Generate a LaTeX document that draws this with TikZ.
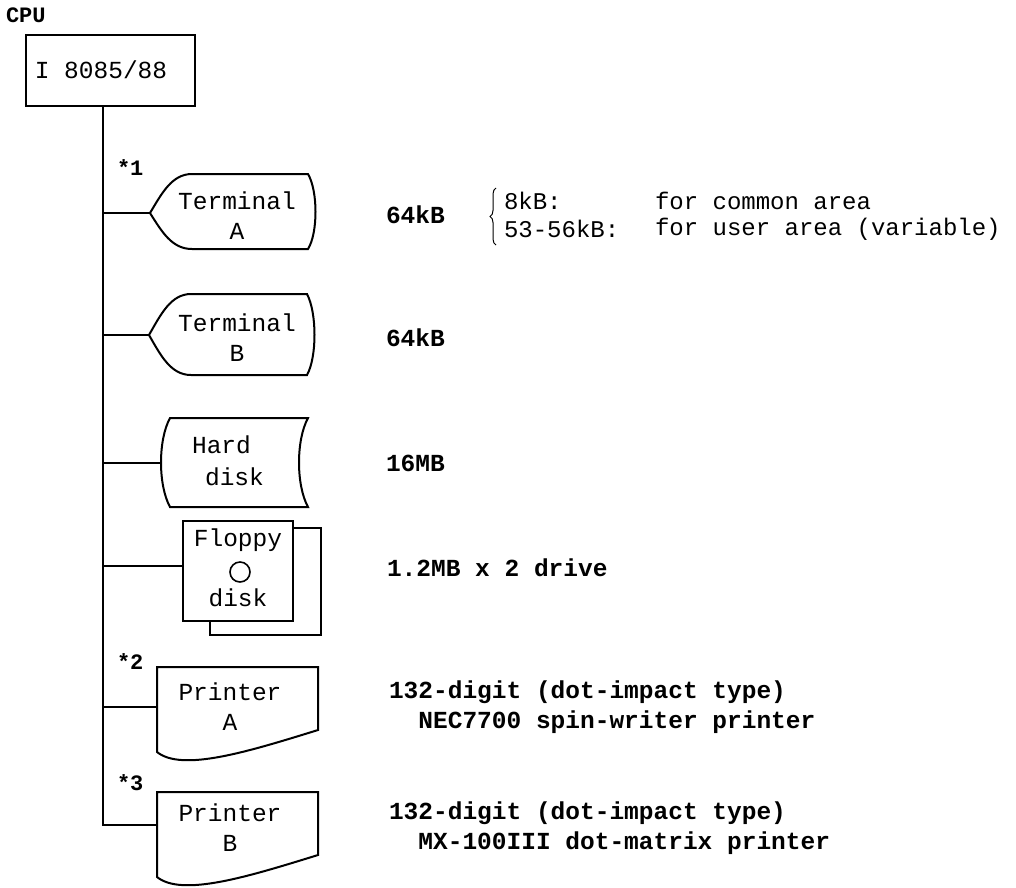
\documentclass[tikz,border=0pt]{standalone}
\usepackage{fontspec}
\setmonofont{Liberation Mono}
\usepackage{tikz}
\usetikzlibrary{calc,decorations.pathreplacing}

\begin{document}
\begin{tikzpicture}[x=1pt,y=-1pt,line width=2pt,
  lbl/.style={font=\fontsize{24.5}{30}\selectfont\ttfamily, align=center, inner sep=0pt},
  info/.style={font=\fontsize{24.5}{30}\selectfont\ttfamily\bfseries, align=left, anchor=west, inner sep=0pt},
  desc/.style={font=\fontsize{24}{28}\selectfont\ttfamily, anchor=west, inner sep=0pt},
  starlbl/.style={font=\fontsize{22}{26}\selectfont\ttfamily\bfseries, anchor=west, inner sep=0pt}]
  \useasboundingbox (0,0) rectangle (1016,887);

  % cpu
  \node[starlbl] (cpuLbl) at (5,15) {CPU};
  \node[draw, minimum width=169, minimum height=71, inner sep=0pt] (cpu) at (110,70) {};
  \node[lbl] (cpuTxt) at (101,70) {I 8085/88};

  % attach points
  \coordinate (bus) at (103,0);
  \coordinate (tipA) at (150,213);
  \coordinate (tipB) at (149,335);
  \coordinate (hdIn) at (160,463);
  \coordinate (fdIn) at (183,566);
  \coordinate (prAIn) at (157,707);
  \coordinate (prBIn) at (157,825);

  % terminal A
  \begin{scope}[shift={(150,213)}]
    \draw (0,0) .. controls (12,-20) and (22,-39) .. (42,-39) -- (158,-39)
      .. controls (168,-22) and (168,20) .. (158,36) -- (42,36)
      .. controls (22,36) and (12,19) .. (0,0) -- cycle;
  \end{scope}
  \node[lbl] (termA) at (237,216) {Terminal\\A};
  \node[starlbl] (star1) at (116,168) {*1};

  % terminal B
  \begin{scope}[shift={(149,335)}]
    \draw (0,0) .. controls (12,-21) and (22,-41) .. (42,-41) -- (158,-41)
      .. controls (168,-22) and (168,22) .. (158,40) -- (42,40)
      .. controls (22,40) and (12,21) .. (0,0) -- cycle;
  \end{scope}
  \node[lbl] (termB) at (237,338) {Terminal\\B};

  % hard disk
  \draw (170,418) -- (308,418) .. controls (296,440) and (296,485) .. (308,507)
    -- (170,507) .. controls (158,485) and (158,440) .. (170,418) -- cycle;
  \node[lbl, align=left, font=\fontsize{24.5}{32}\selectfont\ttfamily] (hdisk) at (228,461) {Hard\\\hspace*{13pt}disk};

  % floppy disk
  \draw (293,528) -- (321,528) -- (321,635) -- (210,635) -- (210,621);
  \draw (183,521) rectangle (293,621);
  \node[lbl] (fdTop) at (238,540) {Floppy};
  \draw[line width=1.6pt] (240,572) circle (10);
  \node[lbl] (fdBot) at (238,598) {disk};

  % printer A
  \begin{scope}[shift={(157,667)}]
    \draw (0,0) -- (161,0) -- (161,63) .. controls (90,85) and (25,105) .. (0,85) -- cycle;
  \end{scope}
  \node[lbl] (prA) at (230,707) {Printer\\A};
  \node[starlbl] (star2) at (116,662) {*2};

  % printer B
  \begin{scope}[shift={(157,792)}]
    \draw (0,0) -- (161,0) -- (161,63) .. controls (90,85) and (25,105) .. (0,85) -- cycle;
  \end{scope}
  \node[lbl] (prB) at (230,828) {Printer\\B};
  \node[starlbl] (star3) at (116,783) {*3};

  % bus lines
  \draw (cpu.south -| bus) |- (prBIn);
  \draw (tipA -| bus) -- (tipA);
  \draw (tipB -| bus) -- (tipB);
  \draw (hdIn -| bus) -- (hdIn);
  \draw (fdIn -| bus) -- (fdIn);
  \draw (prAIn -| bus) -- (prAIn);

  % notes
  \node[info] (memA) at (385,215) {64kB};
  \draw[line width=1pt, decorate, decoration={brace, amplitude=6pt}] (496,245) -- (496,188);
  \node[desc] (common) at (503,201) {8kB:};
  \node[desc] (user) at (503,229) {53-56kB:};
  \node[desc] (commonTxt) at (654,201) {for common area};
  \node[desc] (userTxt) at (654,229) {for user area (variable)};
  \node[info] (memB) at (385,338) {64kB};
  \node[info] (hdCap) at (385,463) {16MB};
  \node[info] (fdCap) at (386,568) {1.2MB x 2 drive};
  \node[info] (prADesc) at (388,707) {132-digit (dot-impact type)\\\hphantom{13}NEC7700 spin-writer printer};
  \node[info] (prBDesc) at (388,828) {132-digit (dot-impact type)\\\hphantom{13}MX-100III dot-matrix printer};
\end{tikzpicture}
\end{document}
